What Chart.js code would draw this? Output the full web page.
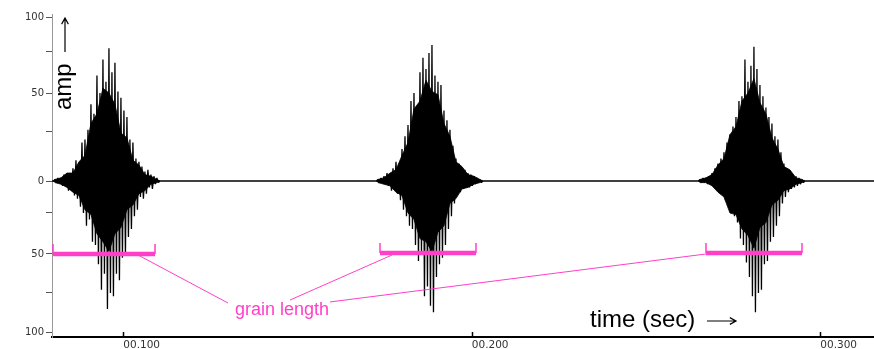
<!DOCTYPE html>
<html>
<head>
  <title>Grains</title>
  <script src="https://cdn.jsdelivr.net/npm/chart.js"></script>
  <style>
    html, body { margin: 0; padding: 0; background: white; }
    #wrap { width: 874px; height: 349px; }
  </style>
</head>
<body>
<div id="wrap"><canvas id="grainChart" width="874" height="349"></canvas></div>

<script>
// time axis (sec)
const xMin = 0.07954;
const xMax = 0.31541;
const xTickValues = [0.1, 0.2, 0.3];
const xTickLabels = ['00.100', '00.200', '00.300'];

// amp axis
const yMin = -97.5;
const yMax = 104.4;
const yTickValues = [102.5, 81.25, 55, 31.25, 0, -19.4, -45.6, -69.4, -94.4];
const yTickLabels = ['100', '', '50', '', '0', '', '50', '', '100'];

// grain onsets and sample step (sec)
const grainStart = [0.08040, 0.17309, 0.26548];
const sampleStep = 0.00043;
const bodyStep = 0.00172;

const grain1 = [1,-1, 2,-1, 2,-3, 4,-3, 5,-6, 4,-3, 8,-9, 13,-11, 10,-16, 24,-20, 26,-28, 32,-24,
  48,-38, 42,-40, 66,-52, 55,-68, 76,-58, 62,-80, 83,-70, 68,-72, 74,-58, 56,-62, 52,-48, 44,-46,
  40,-35, 26,-30, 24,-22, 14,-18, 12,-10, 9,-11, 6,-8, 7,-4, 4,-5, 3,-2, 2,-1];
const grain2 = [1,-1, 2,-1, 3,-2, 5,-3, 4,-6, 8,-5, 12,-8, 10,-12, 20,-18, 28,-22, 35,-28, 50,-30,
  55,-40, 45,-50, 68,-46, 77,-72, 70,-66, 80,-78, 85,-82, 66,-60, 62,-52, 60,-48, 44,-40, 38,-30,
  32,-22, 22,-14, 14,-8, 11,-7, 8,-5, 7,-4, 5,-4, 4,-3, 3,-2, 2,-1, 1,-1];
const grain3 = [1,-1, 2,-1, 2,-2, 3,-2, 5,-3, 8,-4, 11,-4, 14,-8, 18,-12, 24,-15, 29,-18, 34,-22,
  40,-26, 50,-36, 53,-40, 76,-51, 62,-60, 72,-72, 84,-82, 70,-70, 60,-68, 53,-52, 46,-50, 40,-38,
  36,-35, 28,-28, 26,-22, 18,-14, 11,-10, 8,-7, 6,-5, 4,-4, 3,-3, 2,-2, 1,-1];

// solid body of each grain (upper / lower outline)
const body1Up = [1, 2, 5, 5, 12, 16, 36, 42, 58, 55, 48, 30, 27, 13, 10, 4, 3, 1];
const body1Down = [-1, -2, -4, -7, -9, -18, -21, -33, -38, -44, -33, -29, -18, -15, -8, -6, -2, -1];
const body2Up = [1, 2, 5, 7, 16, 24, 45, 50, 63, 56, 54, 36, 28, 12, 9, 4, 3, 1];
const body2Down = [-1, -2, -3, -7, -9, -20, -24, -36, -38, -44, -32, -28, -14, -11, -5, -4, -2, -1];
const body3Up = [1, 2, 4, 10, 14, 29, 34, 50, 55, 64, 49, 42, 27, 20, 9, 7, 2, 1];
const body3Down = [-1, -1, -3, -7, -10, -20, -21, -30, -34, -42, -29, -26, -15, -12, -6, -5, -2, -1];

// grain length spans (sec)
const grainLenStart = [0.07983, 0.17366, 0.26720];
const grainLenEnd = [0.10910, 0.20120, 0.29475];

const pink = '#ff3fc8';

// waveform datasets: filled body + zigzag through the peaks
const waveSets = [];
const bodies = [[body1Up, body1Down], [body2Up, body2Down], [body3Up, body3Down]];
[grain1, grain2, grain3].forEach((g, k) => {
  const t0 = grainStart[k] - sampleStep, t1 = grainStart[k] + g.length * sampleStep;
  const zig = [{ x: t0, y: 0 }];
  g.forEach((v, i) => zig.push({ x: grainStart[k] + i * sampleStep, y: v }));
  zig.push({ x: t1, y: 0 });
  bodies[k].forEach(b => {
    const pts = [{ x: t0, y: 0 }];
    b.forEach((v, j) => pts.push({ x: grainStart[k] + j * bodyStep, y: v }));
    pts.push({ x: t1, y: 0 });
    waveSets.push({ data: pts, borderWidth: 0.8, borderColor: '#000', backgroundColor: '#000', fill: 'origin', pointRadius: 0 });
  });
  waveSets.push({ data: zig, borderWidth: 1.3, borderColor: '#000', fill: false, pointRadius: 0, borderJoinStyle: 'bevel' });
});
const baseline = [{ x: xMin, y: 0 }, { x: xMax, y: 0 }];

// grain length brackets
const barLevel = [-45.6, -45, -45];
const tickTop = [-39.4, -38.8, -38.8];
const bars = [], barEnds = [];
grainLenStart.forEach((s, k) => {
  bars.push({ x: s, y: barLevel[k] }, { x: grainLenEnd[k], y: barLevel[k] }, { x: s, y: null });
  barEnds.push({ x: s, y: tickTop[k] }, { x: s, y: barLevel[k] }, { x: s, y: null });
  barEnds.push({ x: grainLenEnd[k], y: tickTop[k] }, { x: grainLenEnd[k], y: barLevel[k] }, { x: grainLenEnd[k], y: null });
});

// leader lines from the label to each bracket
const leaders = [
  { x: 0.10422, y: -46.25 }, { x: 0.13004, y: -76.25 }, { x: 0.13004, y: null },
  { x: 0.14783, y: -74.4 }, { x: 0.17710, y: -46.25 }, { x: 0.17710, y: null },
  { x: 0.15931, y: -75.6 }, { x: 0.26720, y: -45.6 }
];

function arrow(ctx, x1, y1, x2, y2) {
  const a = Math.atan2(y2 - y1, x2 - x1);
  ctx.beginPath();
  ctx.moveTo(x1, y1);
  ctx.lineTo(x2, y2);
  ctx.moveTo(x2 - 7 * Math.cos(a - 0.5), y2 - 7 * Math.sin(a - 0.5));
  ctx.lineTo(x2, y2);
  ctx.lineTo(x2 - 7 * Math.cos(a + 0.5), y2 - 7 * Math.sin(a + 0.5));
  ctx.stroke();
}

const notes = {
  id: 'notes',
  afterDraw(chart) {
    const ctx = chart.ctx, xs = chart.scales.x, ys = chart.scales.y;
    const bottom = chart.chartArea.bottom;
    ctx.save();
    // inward x ticks
    ctx.strokeStyle = '#000';
    ctx.lineWidth = 1.5;
    xTickValues.forEach(v => {
      const px = Math.round(xs.getPixelForValue(v)) + 0.5;
      ctx.beginPath();
      ctx.moveTo(px, bottom - 5);
      ctx.lineTo(px, bottom);
      ctx.stroke();
    });
    // amp arrow + label
    ctx.lineWidth = 1.2;
    arrow(ctx, xs.getPixelForValue(0.08327), ys.getPixelForValue(80.6),
      xs.getPixelForValue(0.08327), ys.getPixelForValue(101.9));
    ctx.fillStyle = '#000';
    ctx.font = '24px "Liberation Sans", Arial, sans-serif';
    ctx.save();
    ctx.translate(xs.getPixelForValue(0.08500), ys.getPixelForValue(44.4));
    ctx.rotate(-Math.PI / 2);
    ctx.textAlign = 'left';
    ctx.textBaseline = 'alphabetic';
    ctx.fillText('amp', 0, 0);
    ctx.restore();
    // time label + arrow
    ctx.textAlign = 'left';
    ctx.textBaseline = 'alphabetic';
    ctx.fillText('time (sec)', xs.getPixelForValue(0.23392), ys.getPixelForValue(-91.25));
    arrow(ctx, xs.getPixelForValue(0.26749), ys.getPixelForValue(-87.5),
      xs.getPixelForValue(0.27581), ys.getPixelForValue(-87.5));
    // grain length label
    ctx.fillStyle = pink;
    ctx.font = '18px "Liberation Sans", Arial, sans-serif';
    ctx.fillText('grain length', xs.getPixelForValue(0.13205), ys.getPixelForValue(-83.75));
    ctx.restore();
  }
};

new Chart(document.getElementById('grainChart'), {
  type: 'line',
  data: {
    datasets: [
      { data: bars, borderColor: pink, borderWidth: 4.5, pointRadius: 0, spanGaps: false, borderCapStyle: 'butt' },
      { data: barEnds, borderColor: pink, borderWidth: 1.5, pointRadius: 0, spanGaps: false },
      { data: leaders, borderColor: pink, borderWidth: 1, pointRadius: 0, spanGaps: false },
      ...waveSets,
      { data: baseline, borderColor: '#000', borderWidth: 1.6, pointRadius: 0 }
    ]
  },
  options: {
    animation: false,
    responsive: false,
    events: [],
    elements: { line: { tension: 0 } },
    layout: { padding: { top: 14, left: 0, right: 0, bottom: 0 } },
    plugins: { legend: { display: false }, tooltip: { enabled: false }, filler: { propagate: false } },
    scales: {
      x: {
        type: 'linear',
        min: xMin,
        max: xMax,
        afterBuildTicks: s => { s.ticks = xTickValues.map(v => ({ value: v })); },
        afterFit: s => { s.height = 12; },
        grid: { display: true, drawOnChartArea: false, drawTicks: false },
        border: { display: true, color: '#000', width: 2 },
        ticks: {
          align: 'start',
          padding: 2,
          color: '#333',
          font: { family: 'DejaVu Sans', size: 10.5 },
          callback: (v, i) => xTickLabels[i]
        }
      },
      y: {
        min: yMin,
        max: yMax,
        afterBuildTicks: s => { s.ticks = yTickValues.map(v => ({ value: v })); },
        afterFit: s => { s.width = 52; },
        grid: { display: true, drawOnChartArea: false, tickLength: 6, color: '#555' },
        border: { display: true, color: '#999', width: 1 },
        ticks: {
          padding: 2,
          color: '#333',
          autoSkip: false,
          font: { family: 'DejaVu Sans', size: 10 },
          callback: (v, i) => yTickLabels[i]
        }
      }
    }
  },
  plugins: [notes]
});
</script>
</body>
</html>
